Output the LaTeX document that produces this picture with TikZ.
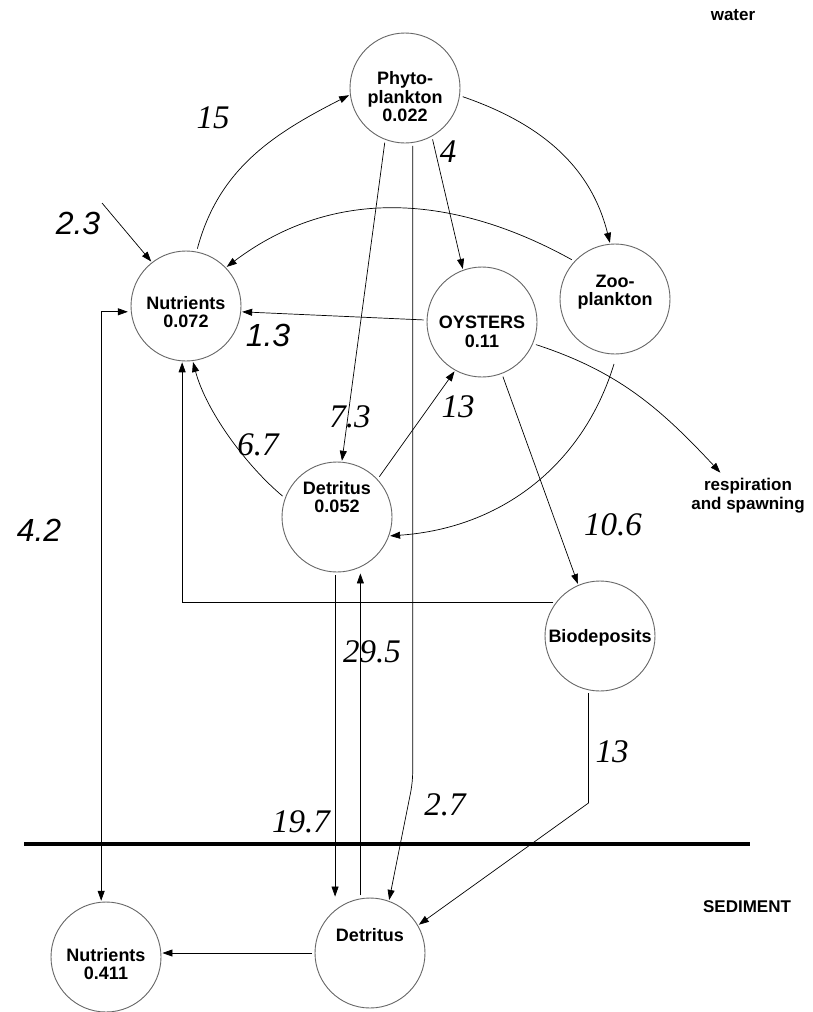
\documentclass[tikz,border=0pt]{standalone}
\usepackage{fontspec}
\setmainfont{Liberation Serif}
\setsansfont{Liberation Sans}
\usepackage{tikz}
\usetikzlibrary{arrows.meta}

\begin{document}
\begin{tikzpicture}[
  x=1pt, y=-1pt,
  >={Triangle[length=10pt,width=7pt]},
  pool/.style={draw=black!60, line width=0.9pt, circle, minimum size=110pt, inner sep=0pt},
  pooltext/.style={font=\sffamily\bfseries\fontsize{18}{18.5}\selectfont, align=center},
  arrow/.style={->, line width=0.7pt, shorten <=3pt, shorten >=1pt},
  flow/.style={font=\fontsize{33}{33}\selectfont\itshape},
  sflow/.style={font=\sffamily\fontsize{32}{32}\selectfont\itshape},
  tag/.style={font=\sffamily\bfseries\fontsize{17}{19}\selectfont, align=center}
]
\useasboundingbox (0,0) rectangle (813,1012);

% Pools in the water
\node[pool, label={[pooltext, yshift=-9pt]center:Phyto-\\plankton\\0.022}] (phyto) at (405,88) {};
\node[pool, label={[pooltext, yshift=-6pt]center:Nutrients\\0.072}] (nutr) at (186,306) {};
\node[pool, label={[pooltext, yshift=-10pt]center:OYSTERS\\0.11}] (oyst) at (482,322) {};
\node[pool, label={[pooltext, yshift=7pt]center:Zoo-\\plankton}] (zoo) at (615,299) {};
\node[pool, label={[pooltext, yshift=20pt]center:Detritus\\0.052}] (detw) at (337,517) {};
\node[pool, label={[pooltext, yshift=-2pt]center:Biodeposits}] (bio) at (600,636) {};

% Pools in the sediment
\node[pool, label={[pooltext, yshift=18pt]center:Detritus}] (dets) at (370,953) {};
\node[pool, label={[pooltext, yshift=-7pt]center:Nutrients\\0.411}] (nuts) at (106,957) {};

% Texts
\node[tag] (water) at (733,15) {water};
\node[tag] (sed) at (747,907) {SEDIMENT};
\node[tag, inner sep=5pt] (resp) at (748,496) {respiration\\and spawning};

% Water and sediment
\draw[line width=4pt] (24,844) -- (750,844);

\coordinate (in23) at (102,203);
\coordinate (k27) at (413,782);
\coordinate (k13) at (589,803);

% Arrows
\draw[arrow, shorten <=0pt] (in23) -- (nutr.128);
\draw[arrow] (nutr.79) to[out=75, in=207] (phyto.187);
\draw[arrow] (zoo.137) to[out=151, in=37] (nutr.44);
\draw[arrow] (oyst.178) -- (nutr.-6);
\draw[arrow] (phyto.-8) to[out=-19, in=104] (zoo.95);
\draw[arrow] (phyto.-61) -- (oyst.110);
\draw[arrow] (phyto.-111) -- (detw.85);
\draw[arrow] (detw.43) -- (oyst.-119);
\draw[arrow] (detw.160) to[out=140, in=-75, looseness=0.8] (nutr.-83);
\draw[arrow] (bio.142) -| (nutr.-94);
\draw[arrow, <->] (nutr.186) -| (nuts.95);
\draw[arrow, shorten <=10pt] (zoo.-88) to[out=253, in=4] (detw.-20);
\draw[arrow] (oyst.-23) to[out=-18, in=133] (resp.140);
\draw[arrow] (oyst.-69) -- (bio.113);
\draw[arrow] (detw.-92) -- (detw.-92 |- dets.north);
\draw[arrow] (dets.100) -- (dets.100 |- detw.south);
\draw[arrow, rounded corners=10pt] (phyto.-82) -- (phyto.-82 |- k27) -- (dets.70);
\draw[arrow] (bio.-102) -- (bio.-102 |- k13) -- (dets.30);
\draw[arrow] (dets.west) -- (dets.west -| nuts.east);

% Flow values
\node[flow] (f15) at (213,118) {15};
\node[sflow] (f23) at (78,223) {2.3};
\node[flow] (f4) at (448,152) {4};
\node[sflow] (f13) at (268,335) {1.3};
\node[flow] (f73) at (350,417) {7.3};
\node[flow] (fdo) at (458,407) {13};
\node[flow] (f67) at (258,445) {6.7};
\node[sflow] (f42) at (39,530) {4.2};
\node[flow] (f106) at (613,525) {10.6};
\node[flow] (f295) at (372,652) {29.5};
\node[flow] (fbd) at (612,752) {13};
\node[flow] (f197) at (301,822) {19.7};
\node[flow] (f27) at (445,805) {2.7};
\end{tikzpicture}
\end{document}
